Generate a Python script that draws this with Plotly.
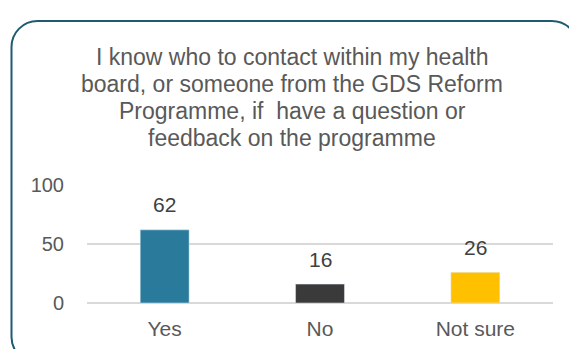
import plotly.graph_objects as go

categories = ["Yes", "No", "Not sure"]
values = [62, 16, 26]
bar_colors = ["#2a7b9b", "#3a3a3a", "#ffc000"]
y_ticks = [0, 50, 100]
title_lines = [
    "I know who to contact within my health",
    "board, or someone from the GDS Reform",
    "Programme, if  have a question or",
    "feedback on the programme",
]

W, H = 569, 349
ML, MR, MT, MB = 87, 16, 185, 46
pw, ph = W - ML - MR, H - MT - MB
FONT = "Liberation Sans, Arial, sans-serif"


def px(x):
    return (x - ML) / pw


def py(y):
    return (H - MB - y) / ph


fig = go.Figure()
fig.add_trace(go.Bar(
    x=categories, y=values, marker_color=bar_colors, width=0.315,
    hoverinfo="skip",
))

# value labels above each bar
for c, v in zip(categories, values):
    fig.add_annotation(x=c, y=v, text=str(v), showarrow=False, yanchor="middle",
                       yshift=25, font=dict(size=21, color="#404040"))

# rounded frame around the chart (arcs as cubic curves)
x0, y0, x1, y1, r = 11.5, 21, 578, 363, 26
k = r * 0.4477
path = (f"M {px(x0)},{py(y0 + r)} C {px(x0)},{py(y0 + k)} {px(x0 + k)},{py(y0)} {px(x0 + r)},{py(y0)} "
        f"L {px(x1 - r)},{py(y0)} C {px(x1 - k)},{py(y0)} {px(x1)},{py(y0 + k)} {px(x1)},{py(y0 + r)} "
        f"L {px(x1)},{py(y1 - r)} C {px(x1)},{py(y1 - k)} {px(x1 - k)},{py(y1)} {px(x1 - r)},{py(y1)} "
        f"L {px(x0 + r)},{py(y1)} C {px(x0 + k)},{py(y1)} {px(x0)},{py(y1 - k)} {px(x0)},{py(y1 - r)} Z")
fig.add_shape(type="path", path=path, xref="paper", yref="paper",
              line=dict(color="#1f5b70", width=2), layer="above")

# chart title, one line at a time for tighter line spacing
for i, line in enumerate(title_lines):
    fig.add_annotation(x=px(292), y=py(57 + 27 * i), xref="paper", yref="paper",
                       text=line, showarrow=False, yanchor="middle", xanchor="center",
                       font=dict(size=23, color="#595959"))

fig.update_layout(
    width=W, height=H,
    margin=dict(l=ML, r=MR, t=MT, b=MB, pad=0),
    paper_bgcolor="white", plot_bgcolor="white",
    font=dict(family=FONT, color="#595959"),
    showlegend=False,
    xaxis=dict(showgrid=False, showline=False, ticks="", tickfont=dict(size=21),
               ticklabelstandoff=11, automargin=False, fixedrange=True),
    yaxis=dict(range=[0, 100], tickvals=y_ticks, showgrid=True, gridcolor="#d9d9d9",
               gridwidth=1.5, zeroline=True, zerolinecolor="#d9d9d9", zerolinewidth=1.5,
               tickfont=dict(size=20), ticks="", ticklabelstandoff=22, automargin=False,
               fixedrange=True),
)

fig.write_html("out.html")
